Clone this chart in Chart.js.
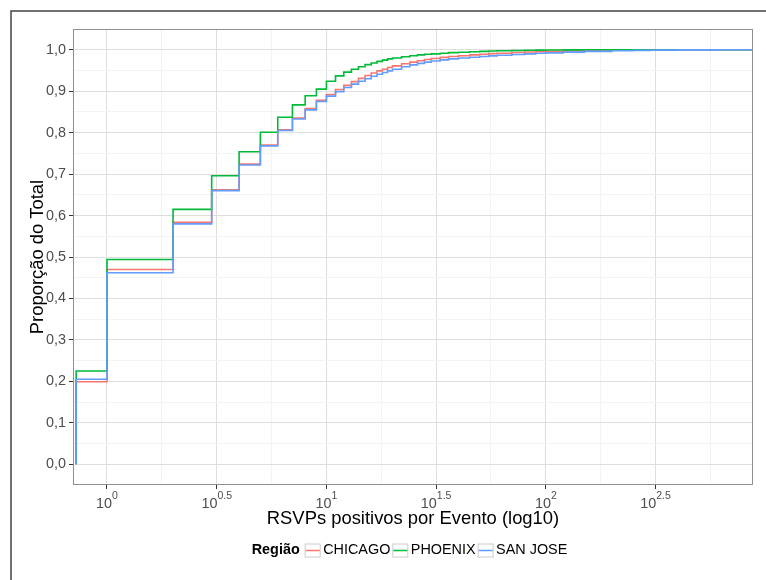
<!DOCTYPE html>
<html>
<head>
<meta charset="utf-8">
<script src="https://cdn.jsdelivr.net/npm/chart.js@4.4.1/dist/chart.umd.min.js"></script>
<style>
  html, body { margin: 0; padding: 0; background: #fff; }
  #wrap { width: 766px; height: 580px; }
</style>
</head>
<body>
<div id="wrap"><canvas id="ecdfChart" width="766" height="580"></canvas></div>
<script>
// RSVP counts (0 is drawn at the left edge, like ggplot's -Inf)
const rsvpCounts = [0, 1, 2, 3, 4, 5, 6, 7, 8, 9, 10, 11, 12, 13, 14, 15, 16, 17, 18, 19, 20,
  22, 24, 26, 28, 30, 33, 36, 40, 45, 50, 55, 60, 70, 80, 90, 100, 120, 150, 200, 250, 300, 400, 630];

const chicago = [0.199, 0.470, 0.584, 0.662, 0.724, 0.770, 0.807, 0.835, 0.858, 0.878, 0.892,
  0.904, 0.914, 0.923, 0.931, 0.938, 0.944, 0.949, 0.953, 0.957, 0.961,
  0.966, 0.970, 0.9735, 0.9765, 0.979, 0.9815, 0.9835, 0.9855, 0.9875, 0.989, 0.9905, 0.9915,
  0.9932, 0.9945, 0.9955, 0.9962, 0.9973, 0.9982, 0.999, 0.9995, 0.9998, 1, 1];

const phoenix = [0.225, 0.494, 0.615, 0.696, 0.754, 0.801, 0.837, 0.867, 0.889, 0.905, 0.924,
  0.937, 0.946, 0.953, 0.959, 0.964, 0.968, 0.972, 0.975, 0.978, 0.980,
  0.983, 0.9855, 0.9875, 0.989, 0.990, 0.9915, 0.993, 0.994, 0.995, 0.996, 0.9968, 0.9974,
  0.998, 0.9986, 0.999, 0.9993, 0.9996, 0.9998, 1, 1, 1, 1, 1];

const sanJose = [0.205, 0.462, 0.580, 0.660, 0.722, 0.768, 0.805, 0.833, 0.855, 0.875, 0.888,
  0.899, 0.909, 0.917, 0.924, 0.930, 0.936, 0.941, 0.945, 0.949, 0.953,
  0.959, 0.9635, 0.967, 0.970, 0.9728, 0.9755, 0.978, 0.980, 0.982, 0.9838, 0.9852, 0.9865,
  0.9885, 0.990, 0.9915, 0.9925, 0.9942, 0.996, 0.9975, 0.9985, 0.999, 0.9996, 1];

const regions = ['CHICAGO', 'PHOENIX', 'SAN JOSE'];
const regionColors = ['#F8766D', '#00BA38', '#619CFF'];

// axis breaks and labels
const xBreakExps = [0, 0.5, 1, 1.5, 2, 2.5];
const xExpLabels = ['0', '0.5', '1', '1.5', '2', '2.5'];
const yBreaks = [0, 0.1, 0.2, 0.3, 0.4, 0.5, 0.6, 0.7, 0.8, 0.9, 1.0];
const yLabels = ['0,0', '0,1', '0,2', '0,3', '0,4', '0,5', '0,6', '0,7', '0,8', '0,9', '1,0'];

const xLogLimits = [-0.1406, 2.944];
const xMin = Math.pow(10, xLogLimits[0]);
const xMax = Math.pow(10, xLogLimits[1]);

const FONT = '"Liberation Sans", Arial, Helvetica, sans-serif';
Chart.defaults.font.family = FONT;

function ecdfPoints(values) {
  const pts = [{ x: xMin, y: 0 }];
  rsvpCounts.forEach((c, i) => pts.push({ x: c === 0 ? xMin : c, y: values[i] }));
  pts.push({ x: xMax, y: 1 });
  return pts;
}

function withMinor(breaks, lo, hi) {
  const step = breaks[1] - breaks[0];
  const out = [];
  breaks.forEach((b, i) => {
    out.push({ value: b, isMajor: true, label: i });
    const m = b + step / 2;
    if (m > lo && m < hi) out.push({ value: m, isMajor: false });
  });
  return out;
}

const xTickList = withMinor(xBreakExps, xLogLimits[0], xLogLimits[1])
  .map(t => ({ value: Math.pow(10, t.value), isMajor: t.isMajor }));
const yTickList = withMinor(yBreaks, -0.05, 1.05)
  .filter(t => t.value <= 1.0001);

const gridColor = c => (c.tick && c.tick.isMajor ? '#dedede' : '#f3f3f3');
const tickColor = c => (c.tick && c.tick.isMajor ? '#333333' : 'rgba(0,0,0,0)');

const decorPlugin = {
  id: 'decor',
  beforeDraw(chart) {
    const ctx = chart.ctx;
    ctx.save();
    ctx.fillStyle = '#fff';
    ctx.fillRect(0, 0, chart.width, chart.height);
    ctx.strokeStyle = '#444';
    ctx.lineWidth = 1.5;
    ctx.beginPath();
    ctx.moveTo(11, chart.height);
    ctx.lineTo(11, 11);
    ctx.lineTo(chart.width, 11);
    ctx.stroke();
    ctx.restore();
  },
  afterDatasetsDraw(chart) {
    const { ctx, chartArea: a } = chart;
    ctx.save();
    ctx.strokeStyle = '#8f8f8f';
    ctx.lineWidth = 1;
    ctx.strokeRect(a.left + 0.5, a.top + 0.5, a.right - a.left - 1, a.bottom - a.top - 1);
    ctx.restore();
  },
  afterDraw(chart) {
    const { ctx, chartArea: a } = chart;
    const x = chart.scales.x;
    ctx.save();
    // x tick labels: 10 with a superscript exponent
    ctx.fillStyle = '#4d4d4d';
    ctx.textBaseline = 'alphabetic';
    ctx.textAlign = 'left';
    xBreakExps.forEach((e, i) => {
      const px = x.getPixelForValue(Math.pow(10, e));
      ctx.font = '14.4px ' + FONT;
      const wb = ctx.measureText('10').width;
      ctx.font = '10.5px ' + FONT;
      const we = ctx.measureText(xExpLabels[i]).width;
      const left = px - (wb + we) / 2;
      ctx.font = '14.4px ' + FONT;
      ctx.fillText('10', left, a.bottom + 23);
      ctx.font = '10.5px ' + FONT;
      ctx.fillText(xExpLabels[i], left + wb, a.bottom + 14);
    });

    // legend
    const cy = 550.5;
    let lx = 251.7;
    ctx.textBaseline = 'middle';
    ctx.fillStyle = '#000';
    ctx.font = 'bold 14.4px ' + FONT;
    ctx.fillText('Região', lx, cy);
    lx += ctx.measureText('Região').width + 5;
    ctx.font = '14.4px ' + FONT;
    regions.forEach((name, i) => {
      ctx.fillStyle = '#fff';
      ctx.fillRect(lx, cy - 6.5, 16, 13);
      ctx.strokeStyle = '#cccccc';
      ctx.lineWidth = 1;
      ctx.strokeRect(lx + 0.5, cy - 6.5, 15, 13);
      ctx.strokeStyle = regionColors[i];
      ctx.lineWidth = 1.5;
      ctx.beginPath();
      ctx.moveTo(lx + 1, cy);
      ctx.lineTo(lx + 15, cy);
      ctx.stroke();
      lx += 16 + 2.5;
      ctx.fillStyle = '#000';
      ctx.fillText(name, lx, cy);
      lx += ctx.measureText(name).width + 2;
    });
    ctx.restore();
  }
};

const seriesValues = [chicago, phoenix, sanJose];

new Chart(document.getElementById('ecdfChart'), {
  type: 'line',
  data: {
    datasets: regions.map((name, i) => ({
      label: name,
      data: ecdfPoints(seriesValues[i]),
      borderColor: regionColors[i],
      borderWidth: 1.6,
      stepped: true,
      pointRadius: 0,
      fill: false,
      order: regions.length - 1 - i
    }))
  },
  options: {
    responsive: false,
    animation: false,
    devicePixelRatio: 1,
    layout: { padding: { left: 0, top: 29, right: 13, bottom: 0 } },
    plugins: { legend: { display: false }, tooltip: { enabled: false } },
    scales: {
      x: {
        type: 'logarithmic',
        min: xMin,
        max: xMax,
        afterBuildTicks: axis => { axis.ticks = xTickList.map(t => ({ ...t })); },
        afterFit: axis => { axis.height = 95; },
        border: { display: false },
        grid: { color: gridColor, tickColor: tickColor, tickLength: 4, lineWidth: 1 },
        ticks: { autoSkip: false, maxRotation: 0, callback: () => '', color: 'rgba(0,0,0,0)' },
        title: {
          display: true,
          text: 'RSVPs positivos por Evento (log10)',
          color: '#000',
          font: { size: 18.4 },
          padding: { top: 0, bottom: 50 }
        }
      },
      y: {
        type: 'linear',
        min: -0.05,
        max: 1.05,
        afterBuildTicks: axis => { axis.ticks = yTickList.map(t => ({ ...t })); },
        afterFit: axis => { axis.width = 73; },
        border: { display: false },
        grid: { color: gridColor, tickColor: tickColor, tickLength: 4, lineWidth: 1 },
        ticks: {
          autoSkip: false,
          padding: 3,
          color: '#4d4d4d',
          font: { size: 14.4 },
          callback: (v, i, ticks) => (ticks[i].isMajor ? yLabels[ticks[i].label] : '')
        },
        title: {
          display: true,
          text: 'Proporção do Total',
          color: '#000',
          font: { size: 18.4 },
          padding: { top: 27, bottom: 0 }
        }
      }
    }
  },
  plugins: [decorPlugin]
});
</script>
</body>
</html>
